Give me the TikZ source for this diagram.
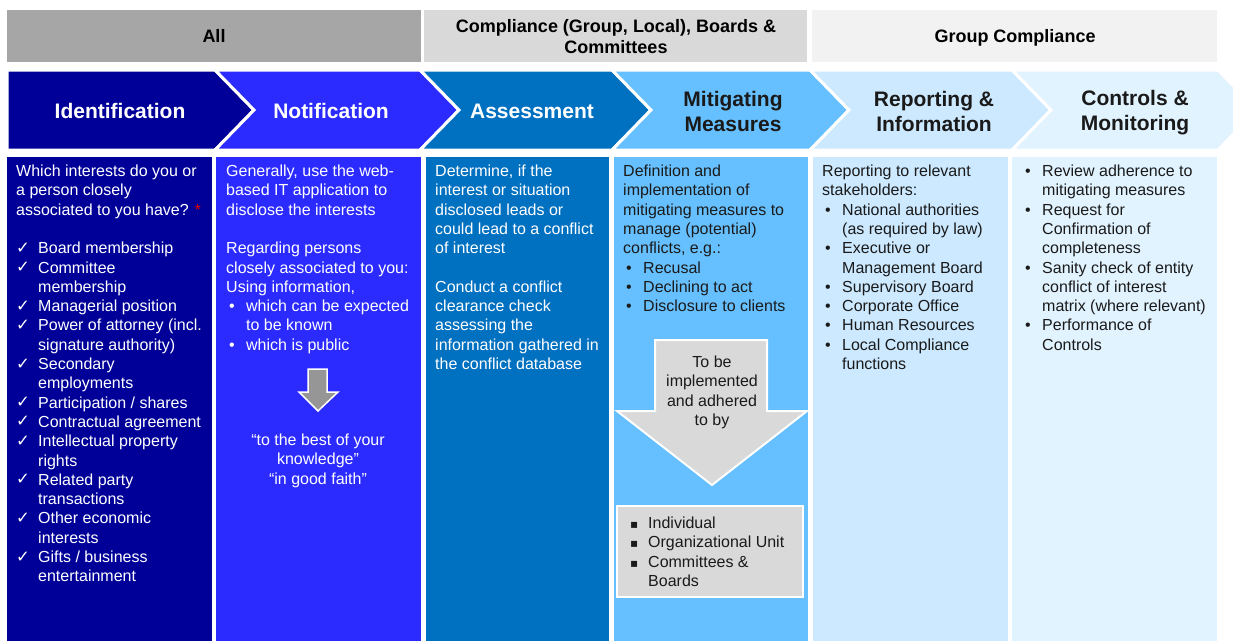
\documentclass[tikz,border=0pt]{standalone}
\usepackage{fontspec}
\setmainfont{Liberation Sans}
\newfontfamily\dvfont{DejaVu Sans}
\definecolor{cId}{HTML}{000099}
\definecolor{cNo}{HTML}{2B2BFF}
\definecolor{cAs}{HTML}{0070C0}
\definecolor{cMi}{HTML}{66C0FF}
\definecolor{cRe}{HTML}{CCE9FF}
\definecolor{cCo}{HTML}{E1F3FF}
\definecolor{hA}{HTML}{A6A6A6}
\definecolor{hB}{HTML}{D9D9D9}
\definecolor{hC}{HTML}{F2F2F2}
\definecolor{dk}{HTML}{1A1A1A}
\definecolor{arrG}{HTML}{969696}
\definecolor{arrL}{HTML}{D9D9D9}
\definecolor{redast}{HTML}{E00000}
\newcommand\myck{\makebox[22pt][l]{\raisebox{0.5pt}{\dvfont\fontsize{16.5}{16}\selectfont ✓}}}
\newcommand\mybul{\hspace*{3pt}\makebox[17pt][l]{•}}
\newcommand\myind{\hspace*{20pt}}
\newcommand\mycind{\hspace*{22pt}}
\newcommand\mysq{\makebox[18pt][l]{{\dvfont\fontsize{12}{12}\selectfont ▪}}}
\newcommand\bodyfont{\fontsize{16}{19.3}\selectfont}
\begin{document}
\begin{tikzpicture}[x=1pt,y=-1pt,
  hdr/.style={fill=#1},
  hdrtext/.style={align=center,font=\bfseries\fontsize{18}{21}\selectfont,text=black,inner sep=0pt},
  chevtext/.style={align=center,font=\bfseries\fontsize{21}{25}\selectfont,inner sep=0pt},
  chevline/.style={draw=white,line width=3pt,line join=miter},
  bt/.style={anchor=base west,inner sep=0pt},
  bc/.style={anchor=base,inner sep=0pt},
  garrow/.style={draw=white,line width=1.5pt,line join=miter}]
\useasboundingbox (0,0) rectangle (1233,640);
\fill[white] (0,0) rectangle (1233,640);
\clip (0,0) rectangle (1233,640);
% header bars
\fill[hdr=hA] (7,10) rectangle (421,62);
\fill[hdr=hB] (424,10) rectangle (807,62);
\fill[hdr=hC] (812,10) rectangle (1217,62);
\node[hdrtext] (hdrAll) at (214,36) {All};
\node[hdrtext] (hdrComp) at (616,36.5) {Compliance (Group, Local), Boards \&\\Committees};
\node[hdrtext] (hdrGroup) at (1015,38) {Group Compliance};
% chevrons
\filldraw[fill=cId,chevline] (7,70) -- (215,70) -- (254,110) -- (215,150) -- (7,150) -- cycle;
\filldraw[fill=cNo,chevline] (215,70) -- (420,70) -- (459,110) -- (420,150) -- (215,150) -- (254,110) -- cycle;
\filldraw[fill=cAs,chevline] (420,70) -- (612,70) -- (651,110) -- (612,150) -- (420,150) -- (459,110) -- cycle;
\filldraw[fill=cMi,chevline] (612,70) -- (810,70) -- (849,110) -- (810,150) -- (612,150) -- (651,110) -- cycle;
\filldraw[fill=cRe,chevline] (810,70) -- (1012,70) -- (1051,110) -- (1012,150) -- (810,150) -- (849,110) -- cycle;
\filldraw[fill=cCo,chevline] (1012,70) -- (1218,70) -- (1257,110) -- (1218,150) -- (1012,150) -- (1051,110) -- cycle;
\node[chevtext,text=white] (lblId) at (120,111) {Identification};
\node[chevtext,text=white] (lblNo) at (331,111) {Notification};
\node[chevtext,text=white] (lblAs) at (532,111) {Assessment};
\node[chevtext,text=dk] (lblMi) at (733,111) {Mitigating\\Measures};
\node[chevtext,text=dk] (lblRe) at (934,111) {Reporting \&\\Information};
\node[chevtext,text=dk] (lblCo) at (1135,113) {Controls \&\\Monitoring};
% column bodies
\fill[cId] (7,157) rectangle (212,645);
\fill[cNo] (216,157) rectangle (421,645);
\fill[cAs] (426,157) rectangle (609,645);
\fill[cMi] (614,157) rectangle (808,645);
\fill[cRe] (813,157) rectangle (1008,645);
\fill[cCo] (1012,157) rectangle (1217,645);
% column 1
\node[bt,text=white] (txtId) at (16,176.5) {\begin{minipage}[t]{200pt}\bodyfont\raggedright
Which interests do you or\\
a person closely\\
associated to you have? \textcolor{redast}{*}\\[19.3pt]
\myck Board membership\\
\myck Committee\\
\mycind membership\\
\myck Managerial position\\
\myck Power of attorney (incl.\\
\mycind signature authority)\\
\myck Secondary\\
\mycind employments\\
\myck Participation / shares\\
\myck Contractual agreement\\
\myck Intellectual property\\
\mycind rights\\
\myck Related party\\
\mycind transactions\\
\myck Other economic\\
\mycind interests\\
\myck Gifts / business\\
\mycind entertainment
\end{minipage}};
% column 2
\node[bt,text=white] (txtNo) at (226,176.5) {\begin{minipage}[t]{200pt}\bodyfont\raggedright
Generally, use the web-\\
based IT application to\\
disclose the interests\\[19.3pt]
Regarding persons\\
closely associated to you:\\
Using information,\\
\mybul which can be expected\\
\myind to be known\\
\mybul which is public
\end{minipage}};
\filldraw[fill=arrG,garrow] (308,369) -- (327,369) -- (327,392) -- (338,392) -- (318,411) -- (299,392) -- (308,392) -- cycle;
\node[bc,text=white] (txtQuote) at (318,445.5) {\begin{minipage}[t]{200pt}\bodyfont\centering
“to the best of your\\
knowledge”\\
“in good faith”
\end{minipage}};
% column 3
\node[bt,text=white] (txtAs) at (435,176.5) {\begin{minipage}[t]{200pt}\bodyfont\raggedright
Determine, if the\\
interest or situation\\
disclosed leads or\\
could lead to a conflict\\
of interest\\[19.3pt]
Conduct a conflict\\
clearance check\\
assessing the\\
information gathered in\\
the conflict database
\end{minipage}};
% column 4
\node[bt,text=dk] (txtMi) at (623,176.5) {\begin{minipage}[t]{200pt}\bodyfont\raggedright
Definition and\\
implementation of\\
mitigating measures to\\
manage (potential)\\
conflicts, e.g.:\\
\mybul Recusal\\
\mybul Declining to act\\
\mybul Disclosure to clients
\end{minipage}};
\filldraw[fill=arrL,draw=white,line width=2pt,line join=miter] (655,340) -- (767,340) -- (767,411) -- (807,411) -- (712,485) -- (617,411) -- (655,411) -- cycle;
\node[bc,text=dk] (txtArrow) at (712,367.5) {\begin{minipage}[t]{140pt}\bodyfont\centering
To be\\
implemented\\
and adhered\\
to by
\end{minipage}};
\filldraw[fill=arrL,draw=white,line width=2pt] (617,506) rectangle (803,597);
\node[bt,text=dk] (txtWho) at (630,528.5) {\begin{minipage}[t]{170pt}\bodyfont\raggedright
\mysq Individual\\
\mysq Organizational Unit\\
\mysq Committees \&\\
\hspace*{18pt}Boards
\end{minipage}};
% column 5
\node[bt,text=dk] (txtRe) at (822,176.5) {\begin{minipage}[t]{200pt}\bodyfont\raggedright
Reporting to relevant\\
stakeholders:\\
\mybul National authorities\\
\myind (as required by law)\\
\mybul Executive or\\
\myind Management Board\\
\mybul Supervisory Board\\
\mybul Corporate Office\\
\mybul Human Resources\\
\mybul Local Compliance\\
\myind functions
\end{minipage}};
% column 6
\node[bt,text=dk] (txtCo) at (1022,176.5) {\begin{minipage}[t]{200pt}\bodyfont\raggedright
\mybul Review adherence to\\
\myind mitigating measures\\
\mybul Request for\\
\myind Confirmation of\\
\myind completeness\\
\mybul Sanity check of entity\\
\myind conflict of interest\\
\myind matrix (where relevant)\\
\mybul Performance of\\
\myind Controls
\end{minipage}};
\end{tikzpicture}
\end{document}
